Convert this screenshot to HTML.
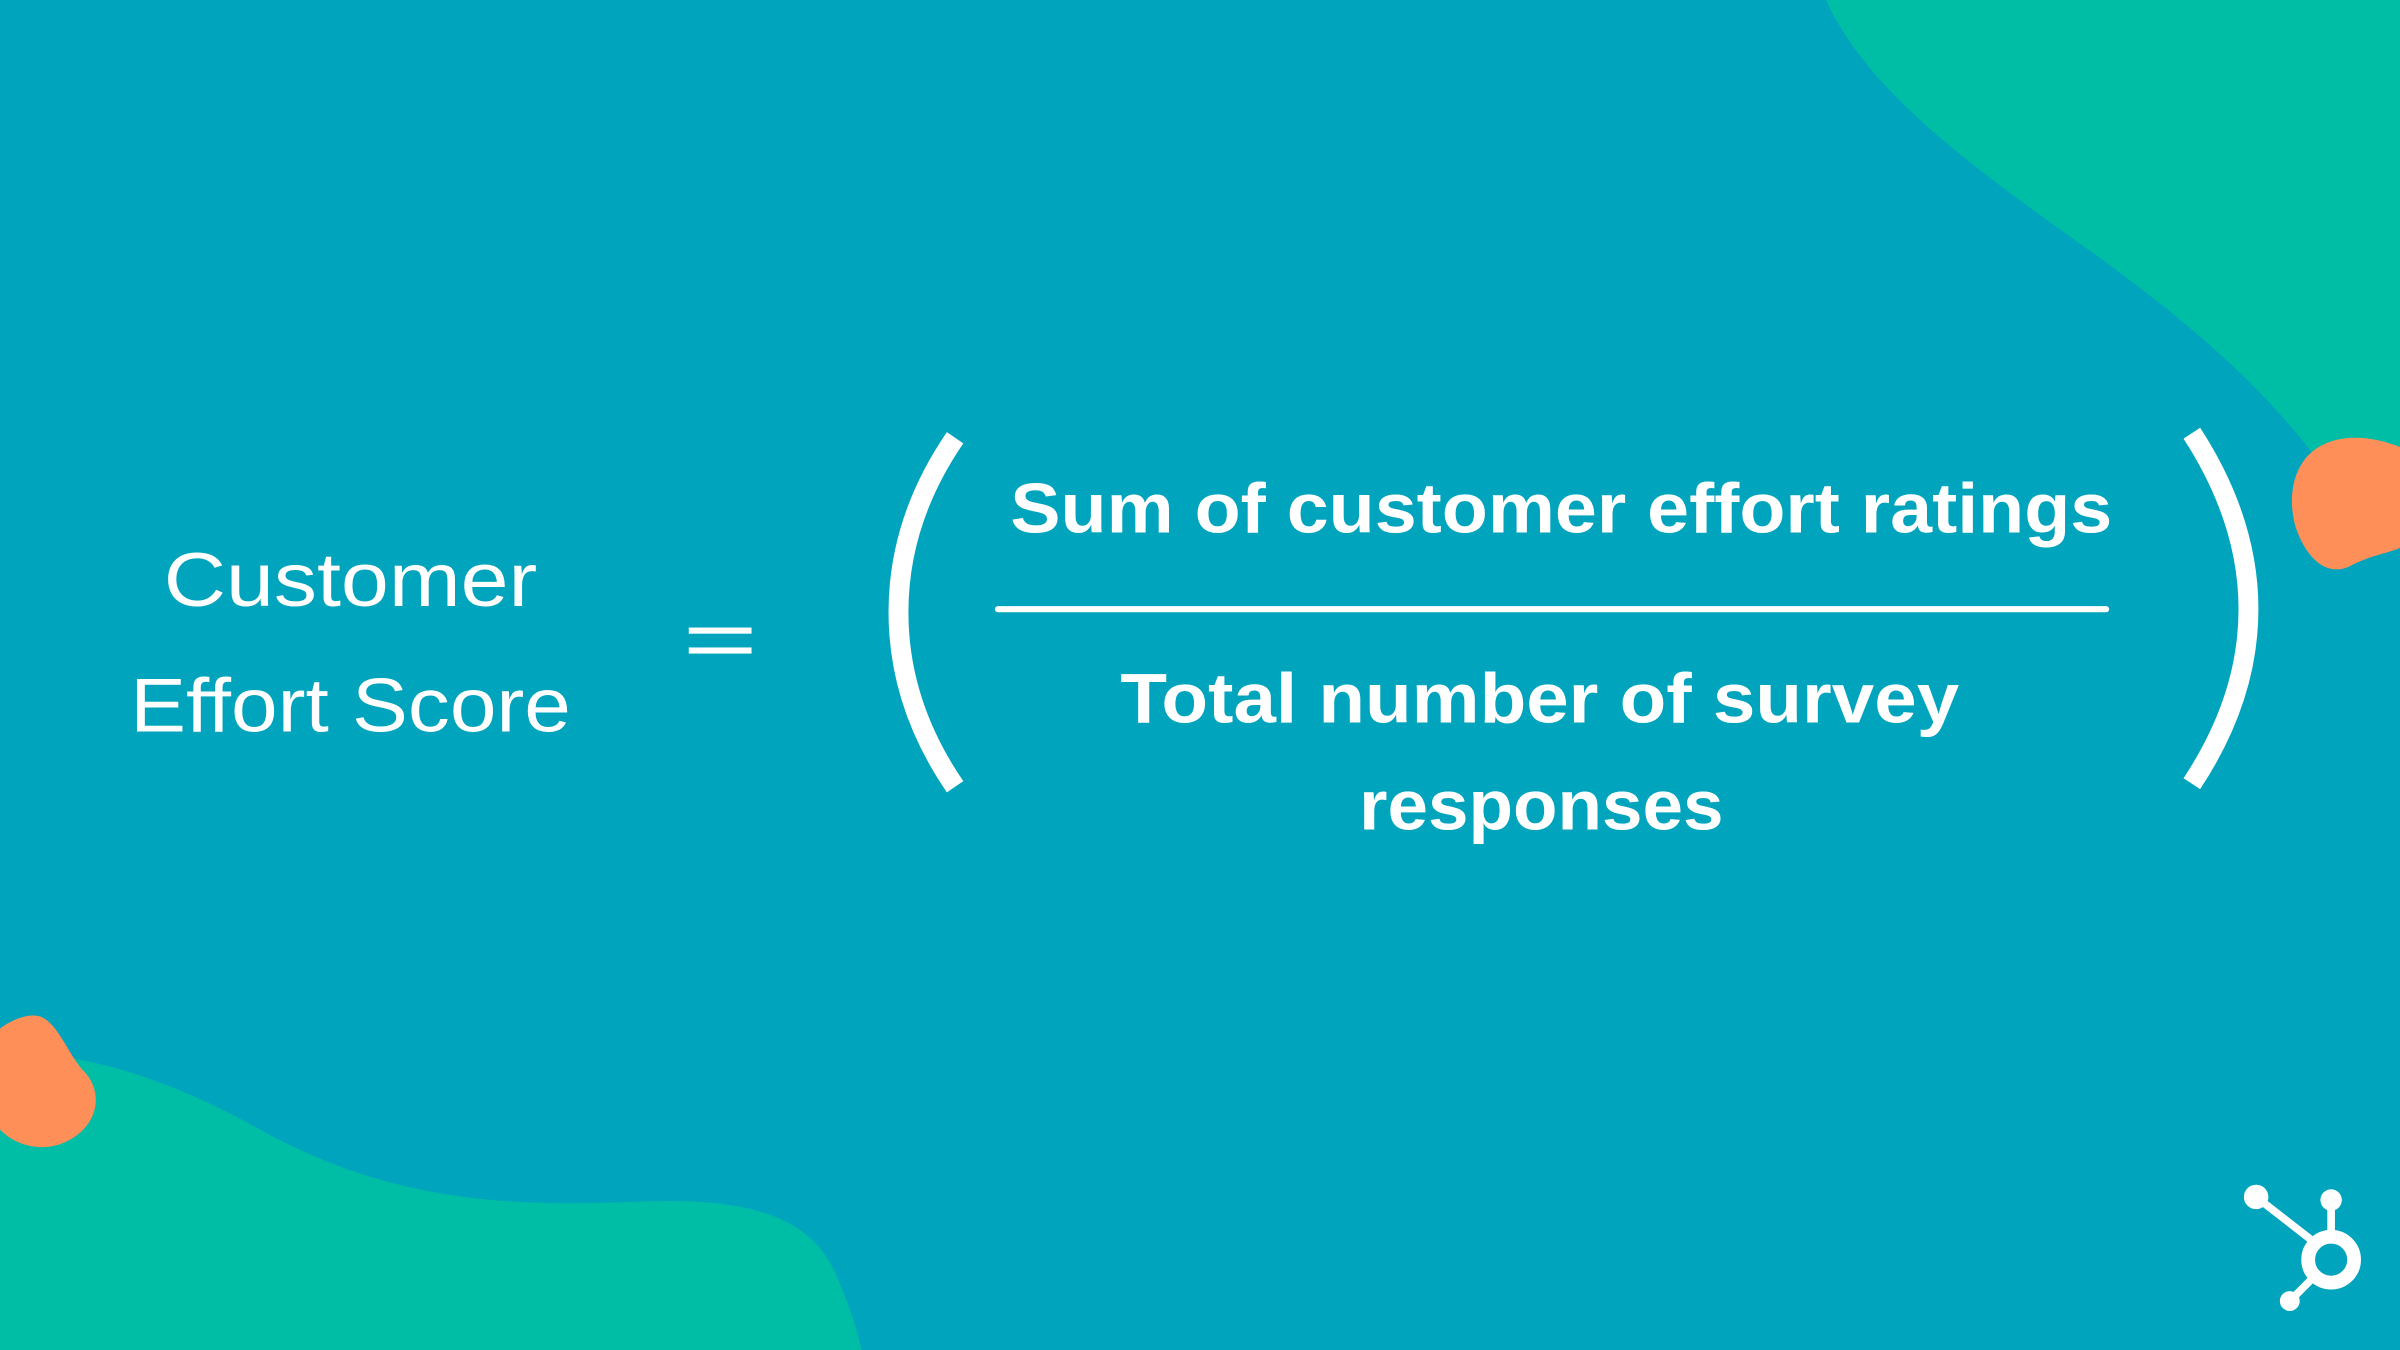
<!DOCTYPE html>
<html><head><meta charset="utf-8"><style>html,body{margin:0;padding:0;width:2400px;height:1350px;overflow:hidden;background:#00A4BD}svg{display:block}</style></head>
<body>
<svg width="2400" height="1350" viewBox="0 0 1568 882" xmlns="http://www.w3.org/2000/svg">
<rect width="1568" height="882" fill="#00A4BD"/>
<path d="M1193 0 C1220 60 1290 110 1360 160 C1430 210 1475 250 1510 295 L1568 330 L1568 0 Z" fill="#00BDA5"/>
<path d="M0 688 C60 686 120 710 170 738 C260 788 340 788 420 785 C500 782 530 800 545 830 C555 852 560 870 563 882 L0 882 Z" fill="#00BDA5"/>
<path d="M0 672 C8 666 18 662 26 664 C38 668 45 690 55 700 C68 714 64 735 45 745 C30 753 12 750 0 738 Z" fill="#FF8F59"/>
<path d="M1568 292 C1550 285 1530 283 1515 292 C1498 302 1494 325 1500 345 C1507 365 1520 377 1535 370 C1548 363 1558 362 1568 358 Z" fill="#FF8F59"/>
<g font-family="Liberation Sans, sans-serif" fill="#fff">
<text x="229" y="396" font-size="50" text-anchor="middle" textLength="244" lengthAdjust="spacingAndGlyphs">Customer</text>
<text x="229" y="478" font-size="50" text-anchor="middle" textLength="288" lengthAdjust="spacingAndGlyphs">Effort Score</text>
<text x="1020" y="348" font-size="46" font-weight="bold" text-anchor="middle" textLength="720" lengthAdjust="spacingAndGlyphs">Sum of customer effort ratings</text>
<text x="1006" y="472" font-size="46" font-weight="bold" text-anchor="middle" textLength="548" lengthAdjust="spacingAndGlyphs">Total number of survey</text>
<text x="1007" y="542" font-size="46" font-weight="bold" text-anchor="middle" textLength="238" lengthAdjust="spacingAndGlyphs">responses</text>
</g>
<rect x="450" y="410" width="41" height="4" fill="#fff"/>
<rect x="450" y="423" width="41" height="4" fill="#fff"/>
<line x1="652" y1="398" x2="1376" y2="398" stroke="#fff" stroke-width="4" stroke-linecap="round"/>
<path d="M624 286 Q587 340 587 400 Q587 460 624 514" fill="none" stroke="#fff" stroke-width="13"/>
<path d="M1432 283 Q1469 340 1469 398 Q1469 456 1432 512" fill="none" stroke="#fff" stroke-width="13"/>
<g fill="#fff" stroke="#fff">
<circle cx="1523" cy="823" r="15" fill="none" stroke-width="9"/>
<line x1="1523" y1="784" x2="1523" y2="808" stroke-width="5"/>
<circle cx="1523" cy="784" r="7" stroke="none"/>
<line x1="1474" y1="782" x2="1510" y2="810" stroke-width="5"/>
<circle cx="1474" cy="782" r="8" stroke="none"/>
<line x1="1496" y1="850" x2="1512" y2="834" stroke-width="5"/>
<circle cx="1496" cy="850" r="6.5" stroke="none"/>
</g>
</svg>
</body></html>
